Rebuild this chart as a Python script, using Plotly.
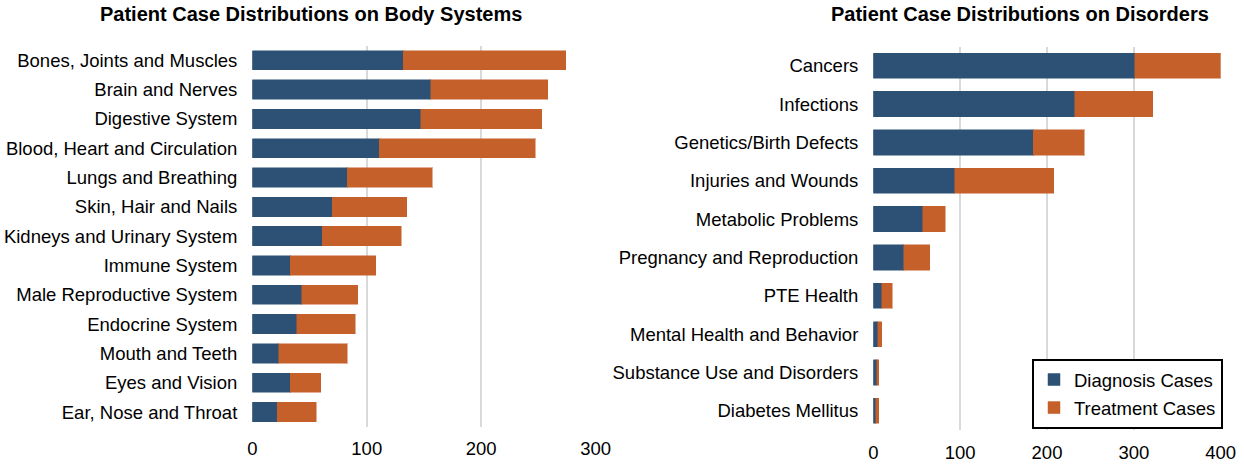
import plotly.graph_objects as go

# ---- data ----
body_systems = ["Bones, Joints and Muscles", "Brain and Nerves", "Digestive System",
                "Blood, Heart and Circulation", "Lungs and Breathing", "Skin, Hair and Nails",
                "Kidneys and Urinary System", "Immune System", "Male Reproductive System",
                "Endocrine System", "Mouth and Teeth", "Eyes and Vision", "Ear, Nose and Throat"]
body_diagnosis = [132, 156, 147, 111, 83, 70, 61, 33, 43, 39, 23, 33, 22]
body_treatment = [142, 102, 106, 136, 74, 65, 69, 75, 49, 51, 60, 27, 34]

disorders = ["Cancers", "Infections", "Genetics/Birth Defects", "Injuries and Wounds",
             "Metabolic Problems", "Pregnancy and Reproduction", "PTE Health",
             "Mental Health and Behavior", "Substance Use and Disorders", "Diabetes Mellitus"]
dis_diagnosis = [301, 232, 184, 94, 57, 35, 10, 5, 4, 3]
dis_treatment = [101, 90, 59, 114, 26, 30, 12, 5, 2, 3]

left_ticks = [0, 100, 200, 300]
right_ticks = [0, 100, 200, 300, 400]

BLUE = "rgb(44,81,117)"
ORANGE = "rgb(197,96,42)"
FONT = "Liberation Sans, Arial, sans-serif"

fig = go.Figure()

def add_pair(cats, diag, treat, xa, ya, show):
    fig.add_trace(go.Bar(y=cats, x=diag, orientation="h", name="Diagnosis Cases",
                         marker=dict(color=BLUE, line=dict(color="rgba(44,81,117,0.5)", width=1)),
                         xaxis=xa, yaxis=ya, showlegend=show, legendgroup="d"))
    fig.add_trace(go.Bar(y=cats, x=treat, orientation="h", name="Treatment Cases",
                         marker=dict(color=ORANGE, line=dict(color="rgba(197,96,42,0.5)", width=1)),
                         xaxis=xa, yaxis=ya, showlegend=show, legendgroup="t"))

add_pair(body_systems, body_diagnosis, body_treatment, "x", "y", False)
add_pair(disorders, dis_diagnosis, dis_treatment, "x2", "y2", True)

W, H = 1244, 466
FS = 18.5
axis_font = dict(family=FONT, size=FS, color="#000")
xcommon = dict(showgrid=True, gridcolor="#d9d9d9", gridwidth=1.5, zeroline=False,
               showline=False, tickfont=axis_font, automargin=False, ticklabelstandoff=9,
               fixedrange=True)
ycommon = dict(type="category", autorange="reversed", showgrid=False, zeroline=False,
               showline=False, tickfont=axis_font, automargin=False, ticklabelstandoff=14,
               fixedrange=True)

fig.update_layout(
    width=W, height=H,
    margin=dict(l=0, r=0, t=0, b=0),
    paper_bgcolor="white", plot_bgcolor="white",
    barmode="stack", bargap=0.34,
    font=dict(family=FONT, size=FS, color="#000"),
    xaxis=dict(domain=[252.3 / W, 595.7 / W], range=[0, 300], tickvals=left_ticks, anchor="y", **xcommon),
    yaxis=dict(domain=[1 - 426.7 / H, 1 - 45.6 / H], anchor="x", **ycommon),
    xaxis2=dict(domain=[873.3 / W, 1220.7 / W], range=[0, 400], tickvals=right_ticks, anchor="y2", **xcommon),
    yaxis2=dict(domain=[1 - 430 / H, 1 - 46.6 / H], anchor="x2", **ycommon),
    legend=dict(x=1223 / W, y=1 - 359 / H, xanchor="right", yanchor="top",
                bordercolor="black", borderwidth=2, bgcolor="white",
                font=dict(family=FONT, size=FS, color="#000"),
                itemwidth=30,
                traceorder="grouped", tracegroupgap=1),
    showlegend=True,
    annotations=[
        dict(text="<b>Patient Case Distributions on Body Systems</b>", x=311 / W, y=1 - 14 / H,
             xref="paper", yref="paper", xanchor="center", yanchor="middle", showarrow=False,
             font=dict(family=FONT, size=20, color="#000")),
        dict(text="<b>Patient Case Distributions on Disorders</b>", x=1020 / W, y=1 - 14 / H,
             xref="paper", yref="paper", xanchor="center", yanchor="middle", showarrow=False,
             font=dict(family=FONT, size=20, color="#000")),
    ],
)

fig.write_html("out.html", config={"displayModeBar": False},
               post_script="document.body.style.margin='0px';")
